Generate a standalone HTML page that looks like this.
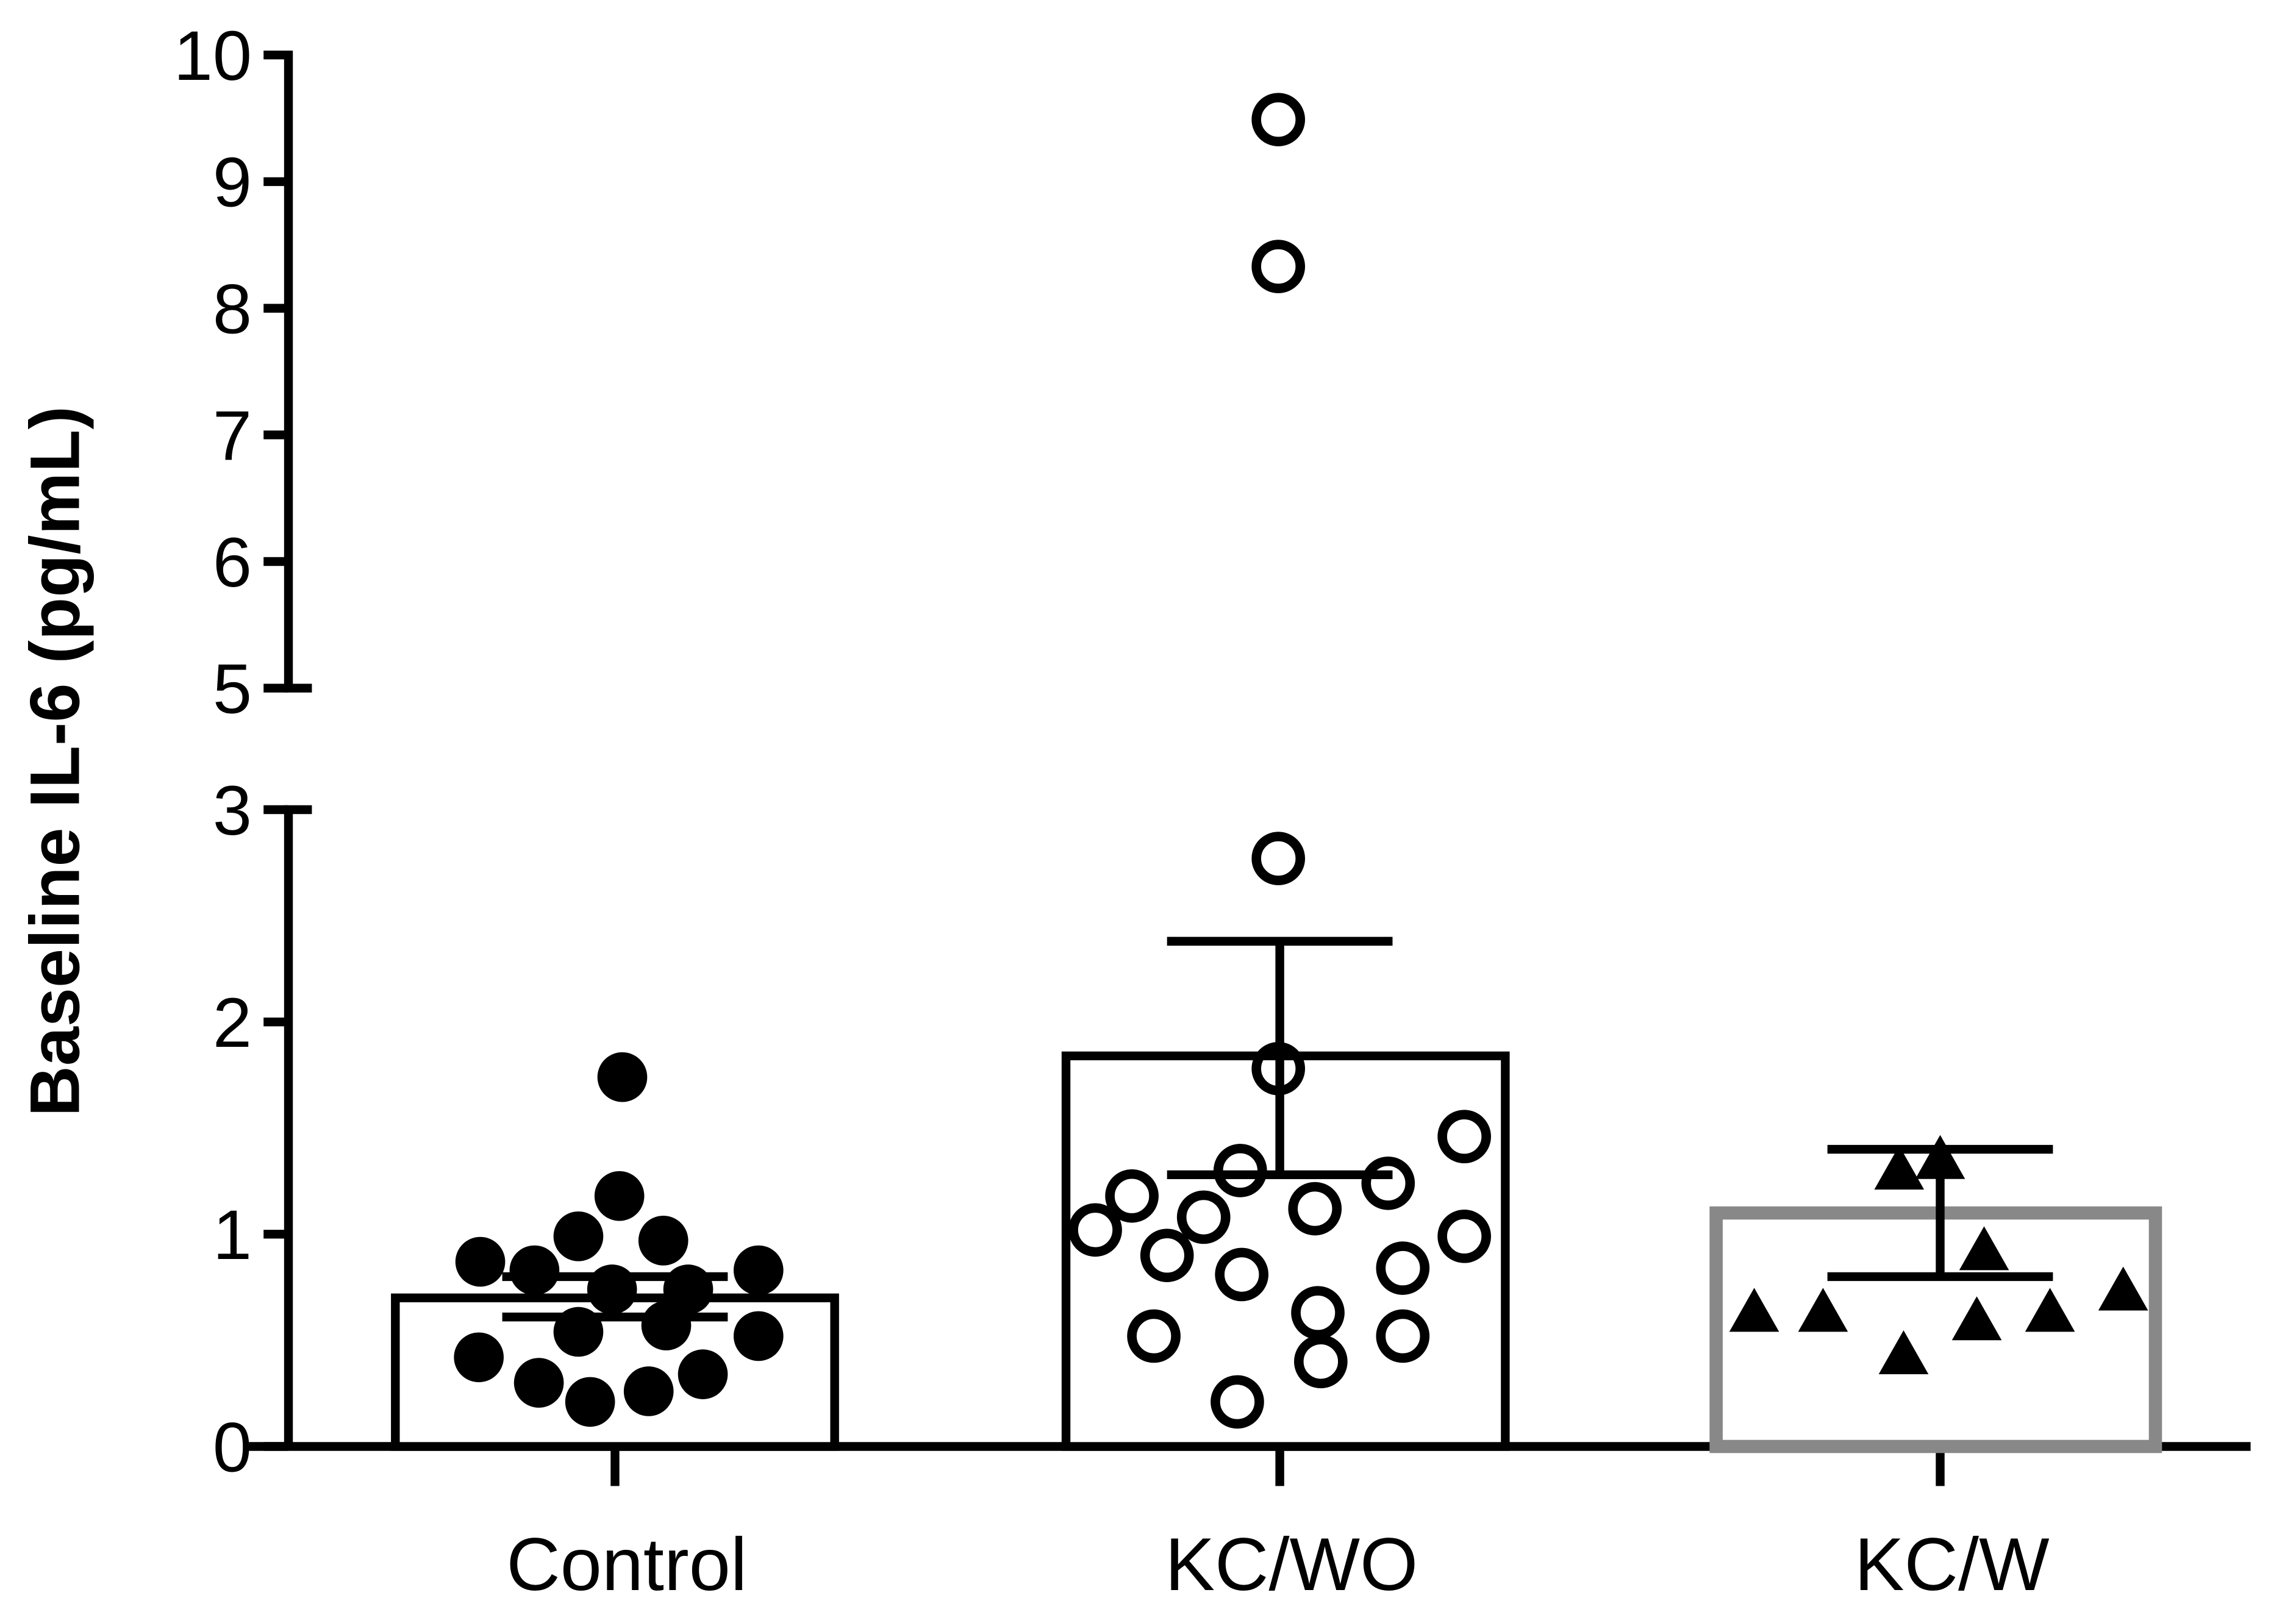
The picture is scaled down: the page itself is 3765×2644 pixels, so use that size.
<!DOCTYPE html>
<html><head><meta charset="utf-8"><style>
html,body{margin:0;padding:0;background:#fff;}
svg{display:block;font-family:"Liberation Sans",Arial,sans-serif;}
</style></head><body>
<svg id="chart" width="3765" height="2644" viewBox="0 0 1568 1101" xmlns="http://www.w3.org/2000/svg">
<g id="axes"></g>
<g id="bars"></g>
<g id="points"></g>
<g id="errs"></g>
<text x="0" y="0" transform="translate(54,520) rotate(-90)" text-anchor="middle" font-size="48" font-weight="bold">Baseline IL-6 (pg/mL)</text>
</svg>
<script>
const categories = ["Control","KC/WO","KC/W"];
const barMeans = [0.70, 1.84, 1.10];
const errLow = [0.61, 1.28, 0.80];
const errHigh = [0.80, 2.38, 1.40];
const controlPts = [1.74,1.18,0.99,0.97,0.87,0.83,0.83,0.74,0.74,0.54,0.57,0.42,0.52,0.34,0.30,0.26,0.21];
const kcwoPts = [9.49,8.33,2.77,1.78,1.46,1.30,1.18,1.24,1.08,1.12,1.02,0.99,0.90,0.81,0.84,0.63,0.52,0.52,0.40,0.21];
const kcwPts = [1.30,1.35,0.92,0.63,0.63,0.59,0.63,0.73,0.43];
const controlJitter = [425,423,395,453,328,365,518,418,470,395,455,327,518,480,368,443,403];
const kcwoJitter = [873,873,873,873,1000,847,773,948,822,898,748,1000,797,848,958,900,788,958,902,845];
const kcwJitter = [1297,1325,1355,1198,1245,1350,1400,1450,1300];
const lowTicks = [0,1,2,3];
const highTicks = [5,6,7,8,9,10];

const NS="http://www.w3.org/2000/svg";
function y(v){return v<=3.5 ? 988-145*v : 470-(v-5)*86.5;}
const cx=[420,874,1325];
function mk(tag,attrs,parent){const e=document.createElementNS(NS,tag);for(const k in attrs)e.setAttribute(k,attrs[k]);document.getElementById(parent).appendChild(e);return e;}

let e;
e=mk('line',{x1:197,y1:y(0),x2:197,y2:y(3),stroke:'#000','stroke-width':6},'axes');


e=mk('line',{x1:197,y1:y(5),x2:197,y2:y(10)-3,stroke:'#000','stroke-width':6},'axes');


e=mk('line',{x1:170,y1:988,x2:1537,y2:988,stroke:'#000','stroke-width':6},'axes');


[3,5].forEach(v=>{
  e=mk('line',{x1:194,y1:y(v),x2:213,y2:y(v),stroke:'#000','stroke-width':6},'axes');
  
  
});
lowTicks.concat(highTicks).forEach(v=>{
  e=mk('line',{x1:180,y1:y(v),x2:197,y2:y(v),stroke:'#000','stroke-width':6},'axes');
  
  
  e=mk('text',{x:172,y:y(v)+17,'text-anchor':'end','font-size':48},'axes');
  e.textContent=v;
  
  
});
categories.forEach((c,i)=>{
  e=mk('line',{x1:cx[i],y1:988,x2:cx[i],y2:1015,stroke:'#000','stroke-width':6},'axes');
  
  
  e=mk('text',{x:cx[i]+8,y:1086,'text-anchor':'middle','font-size':51},'axes');
  e.textContent=c;
  
  
});
const barX=[270,728,1172];
const bw=300;
barMeans.forEach((m,i)=>{
  e=mk('rect',{x:barX[i],y:y(m),width:bw,height:988-y(m),fill:'#fff',stroke:i==2?'#888':'#000','stroke-width':i==2?9:6},'bars');
  
  
});
controlPts.forEach((v,i)=>{
  e=mk('circle',{cx:controlJitter[i],cy:y(v),r:17,fill:'#000'},'points');
  
  
});
kcwoPts.forEach((v,i)=>{
  e=mk('circle',{cx:kcwoJitter[i],cy:y(v),r:15,fill:'none',stroke:'#000','stroke-width':6.5},'points');
  
  
});
kcwPts.forEach((v,i)=>{
  const px=kcwJitter[i],py=y(v);
  e=mk('polygon',{points:`${px},${py-17} ${px-17},${py+13} ${px+17},${py+13}`,fill:'#000'},'points');
  
  
});
barMeans.forEach((m,i)=>{
  e=mk('line',{x1:cx[i],y1:y(errLow[i]),x2:cx[i],y2:y(errHigh[i]),stroke:'#000','stroke-width':6},'errs');
  
  
  [errLow[i],errHigh[i]].forEach(v=>{
    e=mk('line',{x1:cx[i]-77,y1:y(v),x2:cx[i]+77,y2:y(v),stroke:'#000','stroke-width':6},'errs');
    
    
  });
});
</script>
</body></html>
